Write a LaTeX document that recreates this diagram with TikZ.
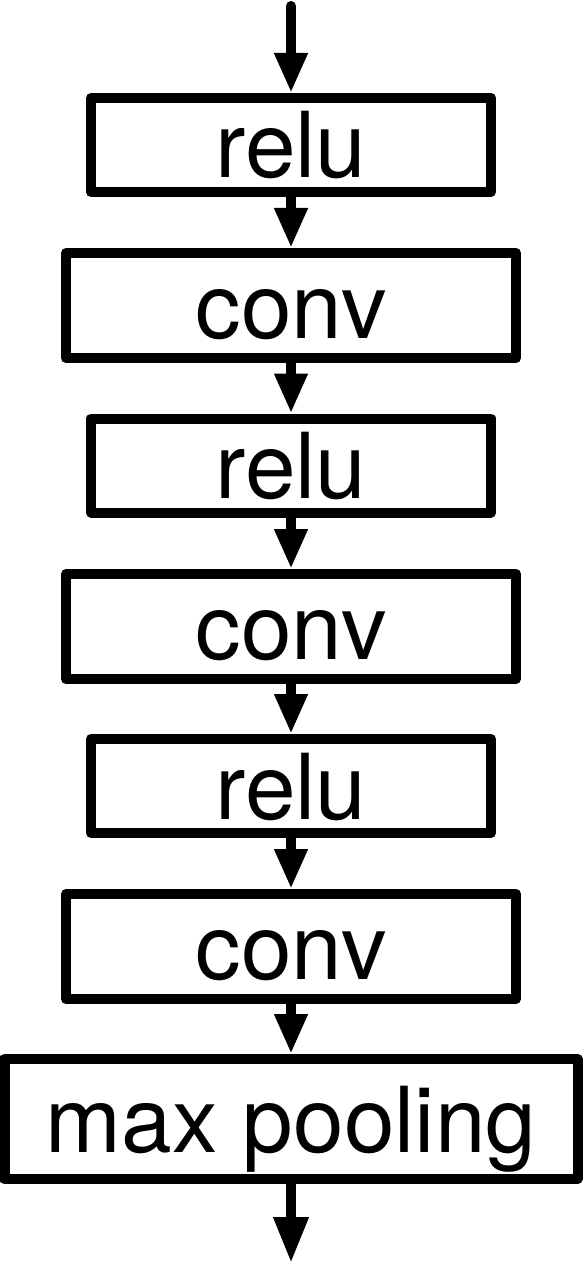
\documentclass[tikz,border=0pt]{standalone}
\usepackage{fontspec}
\setmainfont{TeX Gyre Heros}
\usetikzlibrary{arrows.meta}
\begin{document}
\begin{tikzpicture}[x=1pt,y=-1pt,
  layerbox/.style={draw=black, line width=10pt, line join=round, inner sep=0pt,
    font=\fontsize{91}{100}\selectfont, text height=66pt, text depth=0pt},
  relubox/.style={layerbox, minimum width=400pt, minimum height=94pt},
  convbox/.style={layerbox, minimum width=450pt, minimum height=105pt},
  poolbox/.style={layerbox, minimum width=573pt, minimum height=120pt},
  flow/.style={line width=10pt, line cap=round,
    -{Triangle[length=40pt 0 0, width=31pt 0 0]}},
  flowend/.style={line width=10pt,
    -{Triangle[length=46pt 0 0, width=33pt 0 0]}}]
\useasboundingbox (0,0) rectangle (582,1273);
\coordinate (in) at (291,6);
\node[relubox] (r1) at (291,145) {relu};
\node[convbox] (c1) at (291,305.5) {conv};
\node[relubox] (r2) at (291,465.5) {relu};
\node[convbox] (c2) at (291,626.5) {conv};
\node[relubox] (r3) at (291,786) {relu};
\node[convbox] (c3) at (291,946.5) {conv};
\node[poolbox] (mp) at (291,1119) {max pooling};
\coordinate (out) at (291,1263);
\draw[flow] (in) -- (r1);
\draw[flow] (r1) -- (c1);
\draw[flow] (c1) -- (r2);
\draw[flow] (r2) -- (c2);
\draw[flow] (c2) -- (r3);
\draw[flow] (r3) -- (c3);
\draw[flow] (c3) -- (mp);
\draw[flowend] (mp) -- (out);
\end{tikzpicture}
\end{document}
